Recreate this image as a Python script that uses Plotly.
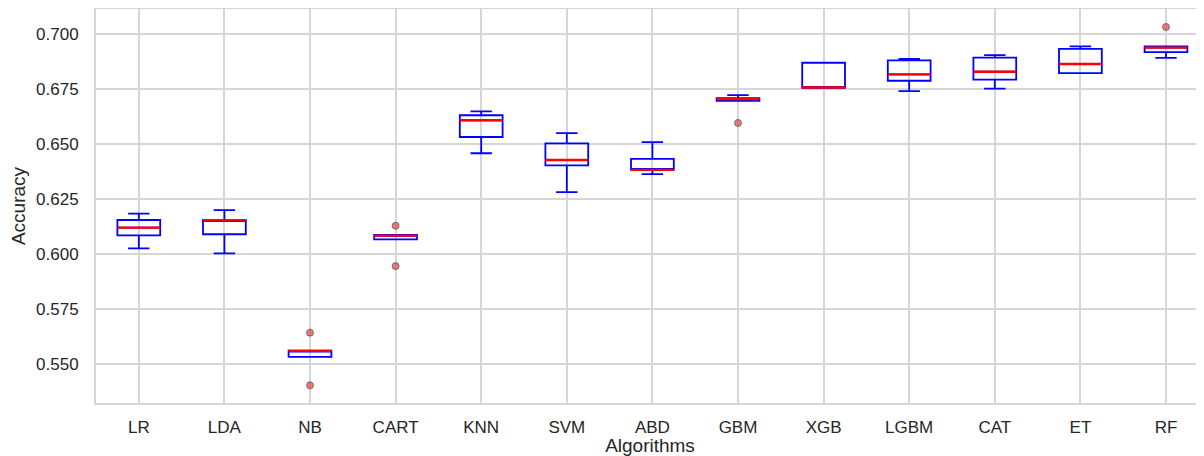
import plotly.graph_objects as go

algorithms = ["LR", "LDA", "NB", "CART", "KNN", "SVM", "ABD", "GBM", "XGB", "LGBM", "CAT", "ET", "RF"]
lower_whisker = [0.6025, 0.6002, 0.5531, 0.6066, 0.6458, 0.6281, 0.6363, 0.6696, 0.6756, 0.6741, 0.6752, 0.6823, 0.6892]
q1 = [0.6084, 0.6089, 0.5531, 0.6066, 0.6532, 0.6403, 0.6382, 0.6696, 0.6756, 0.6788, 0.6793, 0.6823, 0.6918]
median = [0.6119, 0.6153, 0.5558, 0.6083, 0.6608, 0.6427, 0.6382, 0.6705, 0.6757, 0.6817, 0.6829, 0.6864, 0.6939]
q3 = [0.6154, 0.6154, 0.5559, 0.6086, 0.6631, 0.6503, 0.6432, 0.6709, 0.6870, 0.6881, 0.6893, 0.6933, 0.6945]
upper_whisker = [0.6183, 0.6199, 0.5559, 0.6086, 0.6649, 0.6550, 0.6509, 0.6723, 0.6870, 0.6887, 0.6905, 0.6945, 0.6945]
outlier_alg = ["NB", "NB", "CART", "CART", "GBM", "RF"]
outlier_val = [0.5641, 0.5401, 0.6128, 0.5944, 0.6596, 0.7033]

pos = list(range(1, len(algorithms) + 1))
idx = {a: i + 1 for i, a in enumerate(algorithms)}
box_w = 0.5

x_range = [0.5, 0.5 + (1204 - 96) / 85.6]
y_range = [0.53206, 0.71148]

fig = go.Figure()
fig.add_trace(go.Box(
    x=pos, q1=q1, median=median, q3=q3,
    lowerfence=lower_whisker, upperfence=upper_whisker,
    width=box_w, whiskerwidth=0.5,
    line=dict(color="blue", width=1.8),
    fillcolor="rgba(255,255,255,0)",
    boxpoints=False, showlegend=False, hoverinfo="skip",
))

# red median lines, on an overlaid axis pair so they sit above the boxes
mx, my = [], []
for p, m in zip(pos, median):
    mx += [p - box_w / 2, p + box_w / 2, None]
    my += [m, m, None]
fig.add_trace(go.Scatter(x=mx, y=my, mode="lines", xaxis="x2", yaxis="y2",
                         line=dict(color="red", width=2.4),
                         showlegend=False, hoverinfo="skip"))

fig.add_trace(go.Scatter(
    x=[idx[a] for a in outlier_alg], y=outlier_val, mode="markers",
    xaxis="x2", yaxis="y2",
    marker=dict(size=7, color="rgba(225,60,60,0.65)",
                line=dict(color="rgba(60,60,60,0.6)", width=1)),
    showlegend=False, hoverinfo="skip"))

font_family = "Liberation Sans, Arial, sans-serif"
grid_c = "#d6d6d6"
# the page body adds an 8px offset; compensate in the figure size/margins
fig.update_layout(
    width=1196, height=448,
    margin=dict(l=88, r=0, t=1, b=53),
    paper_bgcolor="white", plot_bgcolor="white",
    font=dict(family=font_family, color="#262626", size=17),
    xaxis=dict(
        range=x_range, automargin=False,
        tickmode="array", tickvals=pos, ticktext=algorithms,
        tickfont=dict(size=17),
        showgrid=True, gridcolor=grid_c, gridwidth=1.5,
        showline=True, linecolor=grid_c, linewidth=2, mirror=True,
        ticks="outside", ticklen=8, tickcolor="rgba(0,0,0,0)",
        zeroline=False,
        title=dict(text="Algorithms", font=dict(size=19), standoff=3),
    ),
    yaxis=dict(
        range=y_range, automargin=False,
        tickmode="array",
        tickvals=[0.55, 0.575, 0.6, 0.625, 0.65, 0.675, 0.7],
        ticktext=["0.550", "0.575", "0.600", "0.625", "0.650", "0.675", "0.700"],
        tickfont=dict(size=17),
        showgrid=True, gridcolor=grid_c, gridwidth=1.5,
        showline=True, linecolor=grid_c, linewidth=2, mirror=False,
        ticks="outside", ticklen=12, tickcolor="rgba(0,0,0,0)",
        zeroline=False,
        title=dict(text="Accuracy", font=dict(size=19), standoff=9),
    ),
    xaxis2=dict(range=x_range, overlaying="x", visible=False),
    yaxis2=dict(range=y_range, overlaying="y", visible=False),
)
fig.write_html("out.html")
